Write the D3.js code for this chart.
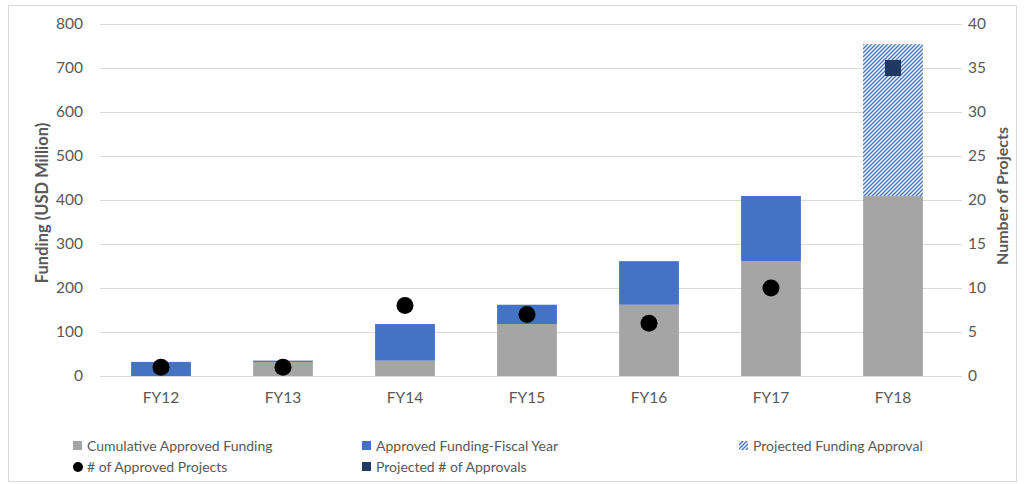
<!DOCTYPE html>
<html><head><meta charset="utf-8">
<script src="https://cdn.jsdelivr.net/npm/d3@7"></script>
<style>body{margin:0;background:#fff;} svg{display:block;}</style>
</head><body>
<svg id="c" width="1025" height="484"></svg>
<script>
const categories = ["FY12","FY13","FY14","FY15","FY16","FY17","FY18"];
const cumulativeFunding = [0, 32, 35, 118, 162, 261, 409];
const fiscalYearFunding = [32, 3, 83, 44, 99, 148, 0];
const projectedFunding = [0, 0, 0, 0, 0, 0, 345];
const approvedProjects = [1, 1, 8, 7, 6, 10, null];
const projectedApprovals = [null, null, null, null, null, null, 35];
const leftTicks = [0,100,200,300,400,500,600,700,800];
const rightTicks = [0,5,10,15,20,25,30,35,40];

const svg = d3.select("#c");
const font = "Lato, 'Open Sans', sans-serif";
const txt = "#595959";

svg.append("rect").attr("x",8.5).attr("y",5.5).attr("width",1008).attr("height",476)
  .attr("fill","#fff").attr("stroke","#d9d9d9");

const defs = svg.append("defs");
const pat = defs.append("pattern").attr("id","hatch").attr("patternUnits","userSpaceOnUse")
  .attr("width",4).attr("height",4);
pat.append("rect").attr("width",4).attr("height",4).attr("fill","#fff");
pat.append("path").attr("d","M-1,1 l2,-2 M0,4 l4,-4 M3,5 l2,-2").attr("stroke","#4472C4").attr("stroke-width",1.4);

const x = d3.scaleBand().domain(categories).range([100,954]).paddingInner(0.51).paddingOuter(0.255);
const y = d3.scaleLinear().domain([0,800]).range([376,24]);
const y2 = d3.scaleLinear().domain([0,40]).range([376,24]);

// grid
svg.append("g").selectAll("line").data(leftTicks).join("line")
  .attr("x1",100).attr("x2",962).attr("y1",d=>Math.round(y(d))+0.5).attr("y2",d=>Math.round(y(d))+0.5)
  .attr("stroke","#d9d9d9").attr("stroke-width",1);

// axes
const ax = d3.axisLeft(y).tickValues(leftTicks).tickSize(0).tickPadding(17);
const gL = svg.append("g").attr("transform","translate(100,0)").call(ax);
gL.select(".domain").remove();
gL.selectAll("text").attr("font-family",font).attr("font-size",15.5).attr("fill",txt);

const ax2 = d3.axisRight(y2).tickValues(rightTicks).tickSize(0).tickPadding(6);
const gR = svg.append("g").attr("transform","translate(962,0)").call(ax2);
gR.select(".domain").remove();
gR.selectAll("text").attr("font-family",font).attr("font-size",15.5).attr("fill",txt);

const axB = d3.axisBottom(x).tickSize(0).tickPadding(16);
const gB = svg.append("g").attr("transform","translate(0,376)").call(axB);
gB.select(".domain").remove();
gB.selectAll("text").attr("font-family",font).attr("font-size",15.5).attr("fill",txt);

// bars
const bw = x.bandwidth();
const g = svg.append("g");
categories.forEach((c,i)=>{
  const base = cumulativeFunding[i];
  g.append("rect").attr("x",x(c)).attr("width",bw)
    .attr("y",y(base)).attr("height",y(0)-y(base)).attr("fill","#A5A5A5");
  const f = fiscalYearFunding[i];
  g.append("rect").attr("x",x(c)).attr("width",bw)
    .attr("y",y(base+f)).attr("height",y(base)-y(base+f)).attr("fill","#4472C4");
  const p = projectedFunding[i];
  g.append("rect").attr("x",x(c)).attr("width",bw)
    .attr("y",y(base+f+p)).attr("height",y(base+f)-y(base+f+p)).attr("fill","url(#hatch)");
});

// points
svg.append("g").selectAll("circle").data(categories.filter((c,i)=>approvedProjects[i]!=null)).join("circle")
  .attr("cx",c=>x(c)+bw/2).attr("cy",c=>y2(approvedProjects[categories.indexOf(c)]))
  .attr("r",8.5).attr("fill","#000");
svg.append("g").selectAll("rect").data(categories.filter((c,i)=>projectedApprovals[i]!=null)).join("rect")
  .attr("x",c=>x(c)+bw/2-8).attr("y",c=>y2(projectedApprovals[categories.indexOf(c)])-8)
  .attr("width",16).attr("height",16).attr("fill","#1F3864");

// axis titles
svg.append("text").attr("transform","translate(48,203) rotate(-90)").attr("text-anchor","middle")
  .attr("font-family",font).attr("font-weight","bold").attr("font-size",16.5).attr("fill",txt)
  .text("Funding (USD Million)");
svg.append("text").attr("transform","translate(1008,196) rotate(-90)").attr("text-anchor","middle")
  .attr("font-family",font).attr("font-weight","bold").attr("font-size",16).attr("fill",txt)
  .text("Number of Projects");

// legend
const leg = [
  {t:"Cumulative Approved Funding", x:73, y:446, k:"sq", c:"#A5A5A5"},
  {t:"Approved Funding-Fiscal Year", x:362, y:446, k:"sq", c:"#4472C4"},
  {t:"Projected Funding Approval", x:739, y:446, k:"sq", c:"url(#hatch)"},
  {t:"# of Approved Projects", x:73, y:467, k:"ci", c:"#000"},
  {t:"Projected # of Approvals", x:362, y:467, k:"sq", c:"#1F3864"}
];
const lg = svg.append("g");
leg.forEach(d=>{
  if(d.k==="sq") lg.append("rect").attr("x",d.x).attr("y",d.y-5).attr("width",9).attr("height",9).attr("fill",d.c);
  else lg.append("circle").attr("cx",d.x+5).attr("cy",d.y).attr("r",5).attr("fill",d.c);
  lg.append("text").attr("x",d.x+14).attr("y",d.y).attr("dy","0.35em")
    .attr("font-family",font).attr("font-size",14).attr("fill",txt).text(d.t);
});
</script>
</body></html>
